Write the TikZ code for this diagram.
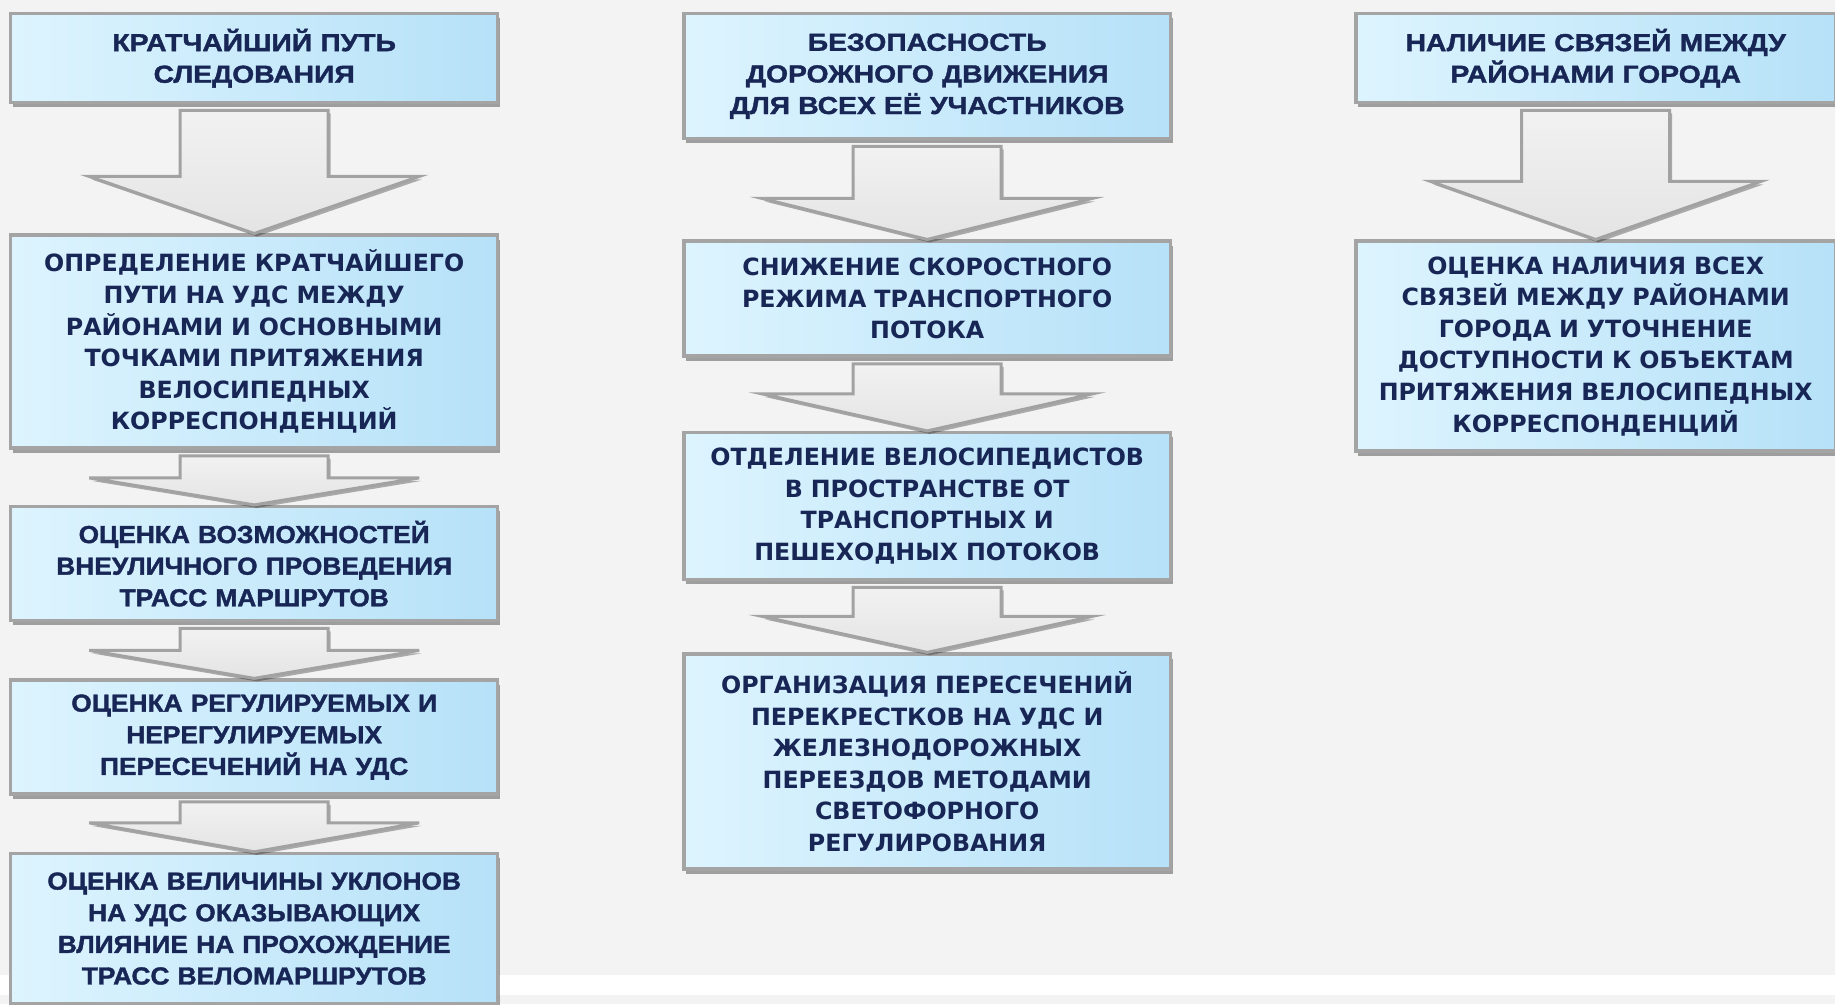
\documentclass[tikz,border=0pt]{standalone}
\usepackage{fontspec}
\setmainfont{Liberation Sans}
\newfontfamily\headface[FakeStretch=1.15, FakeBold=1.5]{Liberation Sans Bold}
\newfontfamily\midface[FakeStretch=1.07, FakeBold=1.5]{Liberation Sans Bold}
\newfontfamily\wideface{DejaVu Sans}
\usepackage{tikz}
\usetikzlibrary{positioning,calc,shadows}
\definecolor{pagegray}{HTML}{F3F3F3}
\definecolor{boxleft}{HTML}{DDF4FE}
\definecolor{boxright}{HTML}{B6E1F8}
\definecolor{boxline}{HTML}{A4A4A4}
\definecolor{boxtext}{HTML}{182656}
\definecolor{arrowfill}{HTML}{E4E4E4}
\definecolor{arrowline}{HTML}{A2A2A2}
\tikzstyle{stage} = [rectangle, draw=boxline, line width=0.07cm, left color=boxleft, right color=boxright, text=boxtext, align=center, text width=9.4cm, minimum width=9.74cm, inner sep=0.1cm, drop shadow={shadow xshift=0.05cm, shadow yshift=-0.09cm, fill=black, opacity=0.35}]
\tikzstyle{headbox} = [stage, font=\headface\fontsize{14}{18}\selectfont]
\tikzstyle{midbox} = [stage, font=\midface\fontsize{14}{18}\selectfont]
\tikzstyle{widebox} = [stage, font=\wideface\bfseries\fontsize{13.5}{18}\selectfont]
\tikzstyle{bigarrow} = [draw=arrowline, line width=0.06cm, top color=arrowfill!50!white, bottom color=arrowfill, drop shadow={shadow xshift=0.05cm, shadow yshift=-0.06cm, fill=black, opacity=0.3}]
% wide block arrow from the bottom of #1 to the top of #2, head length #3
\newcommand{\stagearrow}[3]{%
  \coordinate (t) at ($(#1.south)+(0,-6)$);
  \coordinate (h) at ($(#2.north)+(0,#3)$);
  \path[bigarrow] ($(t)+(-74,0)$) -- ($(t)+(74,0)$) -- ($(h)+(74,0)$) -- ($(h)+(165,0)$)
    -- (#2.north) -- ($(h)+(-165,0)$) -- ($(h)+(-74,0)$) -- cycle;}

\begin{document}
\begin{tikzpicture}[x=0.02cm, y=0.02cm]
    \fill[pagegray] (0,0) rectangle (1835,-1004);
    \fill[white] (0,-975) rectangle (1835,-995);
    \useasboundingbox (0,0) rectangle (1835,-1004);

    % first column
    \node[headbox, anchor=north west, minimum height=1.78cm] (route) at (9,-12) {КРАТЧАЙШИЙ ПУТЬ\\СЛЕДОВАНИЯ};
    \node[widebox, below=2.58cm of route, minimum height=4.26cm] (shortest) {ОПРЕДЕЛЕНИЕ КРАТЧАЙШЕГО\\ПУТИ НА УДС МЕЖДУ\\РАЙОНАМИ И ОСНОВНЫМИ\\ТОЧКАМИ ПРИТЯЖЕНИЯ\\ВЕЛОСИПЕДНЫХ\\КОРРЕСПОНДЕНЦИЙ};
    \node[midbox, below=1.1cm of shortest, minimum height=2.28cm] (offstreet) {ОЦЕНКА ВОЗМОЖНОСТЕЙ\\ВНЕУЛИЧНОГО ПРОВЕДЕНИЯ\\ТРАСС МАРШРУТОВ};
    \node[midbox, below=1.12cm of offstreet, minimum height=2.28cm] (crossings) {ОЦЕНКА РЕГУЛИРУЕМЫХ И\\НЕРЕГУЛИРУЕМЫХ\\ПЕРЕСЕЧЕНИЙ НА УДС};
    \node[midbox, below=1.12cm of crossings, minimum height=3.0cm] (slopes) {ОЦЕНКА ВЕЛИЧИНЫ УКЛОНОВ\\НА УДС ОКАЗЫВАЮЩИХ\\ВЛИЯНИЕ НА ПРОХОЖДЕНИЕ\\ТРАСС ВЕЛОМАРШРУТОВ};

    % second column
    \node[headbox, anchor=north west, minimum height=2.5cm] (safety) at (682,-12) {БЕЗОПАСНОСТЬ\\ДОРОЖНОГО ДВИЖЕНИЯ\\ДЛЯ ВСЕХ ЕЁ УЧАСТНИКОВ};
    \node[widebox, below=1.98cm of safety, minimum height=2.3cm] (speed) {СНИЖЕНИЕ СКОРОСТНОГО\\РЕЖИМА ТРАНСПОРТНОГО\\ПОТОКА};
    \node[widebox, below=1.46cm of speed, minimum height=2.94cm] (separation) {ОТДЕЛЕНИЕ ВЕЛОСИПЕДИСТОВ\\В ПРОСТРАНСТВЕ ОТ\\ТРАНСПОРТНЫХ И\\ПЕШЕХОДНЫХ ПОТОКОВ};
    \node[widebox, below=1.42cm of separation, minimum height=4.3cm] (signals) {ОРГАНИЗАЦИЯ ПЕРЕСЕЧЕНИЙ\\ПЕРЕКРЕСТКОВ НА УДС И\\ЖЕЛЕЗНОДОРОЖНЫХ\\ПЕРЕЕЗДОВ МЕТОДАМИ\\СВЕТОФОРНОГО\\РЕГУЛИРОВАНИЯ};

    % third column
    \node[headbox, anchor=north west, minimum width=9.6cm, text width=9.3cm, minimum height=1.78cm] (links) at (1354,-12) {НАЛИЧИЕ СВЯЗЕЙ МЕЖДУ\\РАЙОНАМИ ГОРОДА};
    \node[widebox, below=2.7cm of links, minimum width=9.6cm, text width=9.3cm, minimum height=4.2cm] (access) {ОЦЕНКА НАЛИЧИЯ ВСЕХ\\СВЯЗЕЙ МЕЖДУ РАЙОНАМИ\\ГОРОДА И УТОЧНЕНИЕ\\ДОСТУПНОСТИ К ОБЪЕКТАМ\\ПРИТЯЖЕНИЯ ВЕЛОСИПЕДНЫХ\\КОРРЕСПОНДЕНЦИЙ};

    \stagearrow{route}{shortest}{57}
    \stagearrow{shortest}{offstreet}{27}
    \stagearrow{offstreet}{crossings}{28}
    \stagearrow{crossings}{slopes}{29}
    \stagearrow{safety}{speed}{41}
    \stagearrow{speed}{separation}{37}
    \stagearrow{separation}{signals}{36}
    \stagearrow{links}{access}{58}
\end{tikzpicture}
\end{document}
